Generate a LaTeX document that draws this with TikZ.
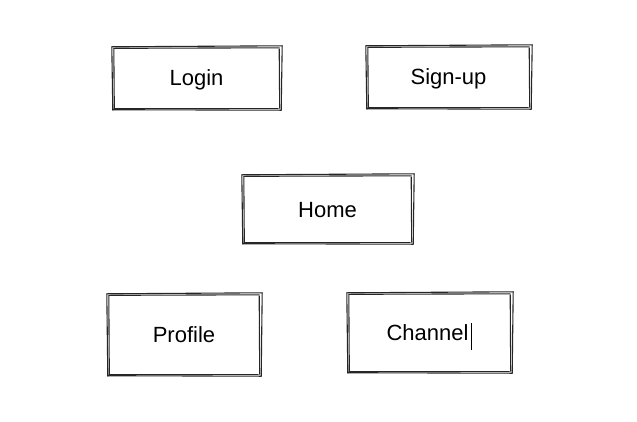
\documentclass[tikz,border=0pt]{standalone}
\usepackage{fontspec}
\setmainfont{Liberation Sans}
\begin{document}
\begin{tikzpicture}[x=1pt,y=-1pt,
  box/.style={draw=none, inner sep=0pt},
  lbl/.style={anchor=base, inner sep=0pt, font=\fontsize{22}{26}\selectfont},
  sk/.style={line width=1.1pt, black!85, line cap=round}]
\useasboundingbox (0,0) rectangle (637,421);
\newcommand\sketchbox[1]{%
  \draw[sk] ([shift={(-1,0)}]#1.north west) -- ([shift={(2,-1)}]#1.north east);
  \draw[sk] ([shift={(1,1.5)}]#1.north west) -- ([shift={(-1,1)}]#1.north east);
  \draw[sk] ([shift={(2,-1)}]#1.north east) -- ([shift={(1,1)}]#1.south east);
  \draw[sk] ([shift={(-1,2)}]#1.north east) -- ([shift={(-0.5,-1)}]#1.south east);
  \draw[sk] ([shift={(1,1)}]#1.south east) -- ([shift={(0,0.5)}]#1.south west);
  \draw[sk] ([shift={(-2,-1)}]#1.south east) -- ([shift={(1,-1)}]#1.south west);
  \draw[sk] ([shift={(0,1)}]#1.south west) -- ([shift={(-1,0)}]#1.north west);
  \draw[sk] ([shift={(1.5,-1)}]#1.south west) -- ([shift={(1,2)}]#1.north west);
}
\node[box, minimum width=167, minimum height=62] (login) at (196.5,78) {};
\node[box, minimum width=163, minimum height=62] (signup) at (448.5,77) {};
\node[box, minimum width=169, minimum height=68] (home) at (327.5,209) {};
\node[box, minimum width=152, minimum height=81] (profile) at (184,334.5) {};
\node[box, minimum width=163, minimum height=79] (channel) at (429.5,332.5) {};
\node[lbl] (loginT) at ([shift={(0,7.5)}]login.center) {Login};
\node[lbl] (signupT) at ([shift={(0,7.5)}]signup.center) {Sign-up};
\node[lbl] (homeT) at ([shift={(0,8.5)}]home.center) {Home};
\node[lbl] (profileT) at ([shift={(0,7.5)}]profile.center) {Profile};
\node[lbl] (channelT) at ([shift={(-2,7.5)}]channel.center) {Channel};
\sketchbox{login}
\sketchbox{signup}
\sketchbox{home}
\sketchbox{profile}
\sketchbox{channel}
\coordinate (cur1) at ([shift={(3,-17)}]channelT.base east);
\draw[line width=1.6pt] (cur1) -- ++(0,27);
\end{tikzpicture}
\end{document}
